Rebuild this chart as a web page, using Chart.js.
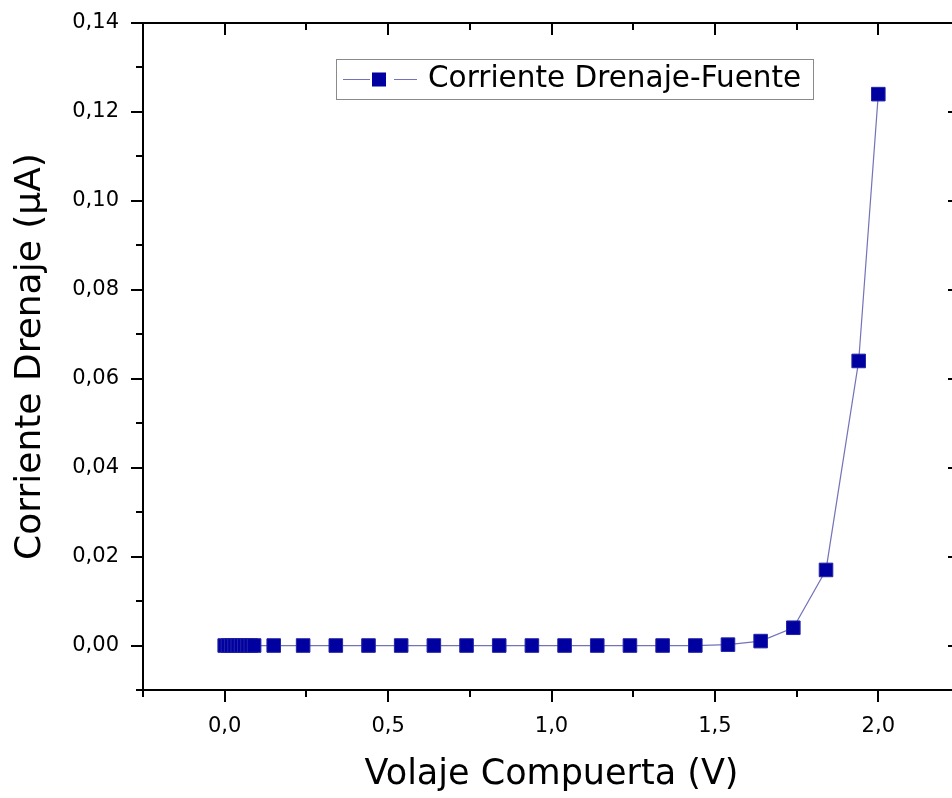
<!DOCTYPE html>
<html><head><meta charset="utf-8">
<script src="https://cdn.jsdelivr.net/npm/chart.js@4.4.0/dist/chart.umd.min.js"></script>
<style>
html,body{margin:0;padding:0;background:#fff;overflow:hidden;width:952px;height:798px;}
#wrap{width:952px;height:798px;overflow:hidden;position:relative;background:#fff;}
canvas{display:block;}
</style></head><body>
<div id="wrap"><canvas id="c" width="975" height="798" style="width:975px;height:798px"></canvas></div>
<script>
const seriesLabel = 'Corriente Drenaje-Fuente';
const gateVoltage = [0, 0.01, 0.02, 0.03, 0.04, 0.05, 0.06, 0.07, 0.08, 0.09, 0.15, 0.24, 0.34, 0.44, 0.54, 0.64, 0.74, 0.84, 0.94, 1.04, 1.14, 1.24, 1.34, 1.44, 1.54, 1.64, 1.74, 1.84, 1.94, 2.00];
const drainCurrent = [0, 0, 0, 0, 0, 0, 0, 0, 0, 0, 0, 0, 0, 0, 0, 0, 0, 0, 0, 0, 0, 0, 0, 0, 0.0002, 0.001, 0.004, 0.017, 0.064, 0.124];
const xTickValues = [0, 0.5, 1.0, 1.5, 2.0];
const xTickLabels = ['0,0', '0,5', '1,0', '1,5', '2,0'];
const xMinorTicks = [-0.25, 0.25, 0.75, 1.25, 1.75, 2.25];
const yTickValues = [0, 0.02, 0.04, 0.06, 0.08, 0.10, 0.12, 0.14];
const yTickLabels = ['0,00', '0,02', '0,04', '0,06', '0,08', '0,10', '0,12', '0,14'];
const yMinorTicks = [-0.01, 0.01, 0.03, 0.05, 0.07, 0.09, 0.11, 0.13];
const xTitle = 'Volaje Compuerta (V)';
const yTitle = 'Corriente Drenaje (\u03BCA)';

const FONT = 'DejaVu Sans';
const MARKER = '#0000a0';
const LINE = '#7373b8';

const framePlugin = {
  id: 'frame',
  afterDraw(chart) {
    const ctx = chart.ctx, ca = chart.chartArea;
    const xs = chart.scales.x, ys = chart.scales.y;
    ctx.save();
    ctx.strokeStyle = '#000';
    ctx.lineWidth = 2;
    ctx.strokeRect(ca.left, ca.top, ca.right - ca.left, ca.bottom - ca.top);
    ctx.beginPath();
    const xt = (vals, len) => vals.forEach(v => {
      const p = Math.round(xs.getPixelForValue(v));
      ctx.moveTo(p, ca.bottom); ctx.lineTo(p, ca.bottom + len);
      ctx.moveTo(p, ca.top); ctx.lineTo(p, ca.top + len);
    });
    const yt = (vals, len) => vals.forEach(v => {
      const p = Math.round(ys.getPixelForValue(v));
      ctx.moveTo(ca.left - len, p); ctx.lineTo(ca.left, p);
      ctx.moveTo(ca.right - len, p); ctx.lineTo(ca.right, p);
    });
    xt(xTickValues, 12); xt(xMinorTicks, 7);
    yt(yTickValues, 12); yt(yMinorTicks, 7);
    ctx.stroke();

    // legend
    const bx = ca.left + 193, by = ca.top + 36, bw = 477, bh = 40;
    ctx.fillStyle = '#fff';
    ctx.fillRect(bx, by, bw, bh);
    ctx.lineWidth = 1;
    ctx.strokeStyle = '#8a8a8a';
    ctx.strokeRect(bx + 0.5, by + 0.5, bw, bh);
    const my = by + 20.5;
    ctx.strokeStyle = LINE;
    ctx.lineWidth = 1.2;
    ctx.beginPath();
    ctx.moveTo(bx + 7, my); ctx.lineTo(bx + 34, my);
    ctx.moveTo(bx + 58, my); ctx.lineTo(bx + 81, my);
    ctx.stroke();
    ctx.fillStyle = MARKER;
    ctx.fillRect(bx + 36, my - 7, 14, 14);
    ctx.fillStyle = '#000';
    ctx.font = '29.5px "' + FONT + '"';
    ctx.textBaseline = 'middle';
    ctx.textAlign = 'left';
    ctx.fillText(chart.data.datasets[0].label, bx + 92, my);
    ctx.restore();
  }
};

new Chart(document.getElementById('c'), {
  type: 'line',
  data: {
    datasets: [{
      label: seriesLabel,
      data: gateVoltage.map((x, i) => ({ x: x, y: drainCurrent[i] })),
      borderColor: LINE,
      borderWidth: 1.2,
      pointStyle: 'rect',
      pointRadius: 9.6,
      pointBackgroundColor: MARKER,
      pointBorderColor: '#2323a6',
      pointBorderWidth: 1,
      tension: 0,
      clip: false
    }]
  },
  options: {
    responsive: false,
    animation: false,
    layout: { padding: { top: 23, right: 15, left: 0, bottom: 0 } },
    plugins: { legend: { display: false }, tooltip: { enabled: false } },
    scales: {
      x: {
        type: 'linear', min: -0.25, max: 2.25,
        grid: { display: false, drawTicks: false }, border: { display: false },
        afterBuildTicks: s => { s.ticks = xTickValues.map(v => ({ value: v })); },
        afterFit: s => { s.height = 108; s.paddingLeft = 0; s.paddingRight = 0; },
        ticks: {
          autoSkip: false, maxRotation: 0, padding: 24, color: '#000',
          font: { family: FONT, size: 21 },
          callback: (v, i) => xTickLabels[i]
        },
        title: { display: true, text: xTitle, color: '#000', font: { family: FONT, size: 35 }, padding: { top: 0, bottom: 2 } }
      },
      y: {
        type: 'linear', min: -0.01, max: 0.14,
        grid: { display: false, drawTicks: false }, border: { display: false },
        afterBuildTicks: s => { s.ticks = yTickValues.map(v => ({ value: v })); },
        afterFit: s => { s.width = 143; s.paddingTop = 0; s.paddingBottom = 0; },
        ticks: {
          autoSkip: false, padding: 24, color: '#000',
          font: { family: FONT, size: 21 },
          callback: (v, i) => yTickLabels[i]
        },
        title: { display: true, text: yTitle, color: '#000', font: { family: FONT, size: 36 }, padding: { top: 9, bottom: 0 } }
      }
    }
  },
  plugins: [framePlugin]
});
</script>
</body></html>
